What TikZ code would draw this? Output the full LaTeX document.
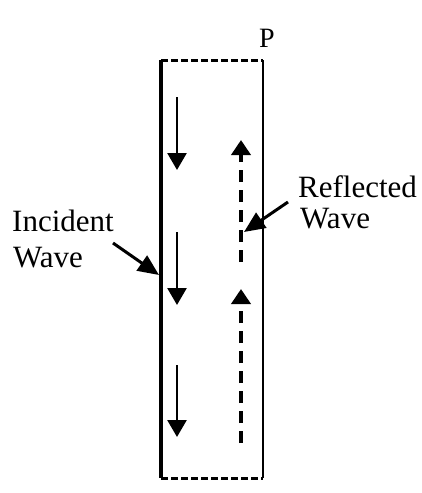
\documentclass[tikz,border=0pt]{standalone}
\usepackage{fontspec}
\setmainfont{Liberation Serif}
\usetikzlibrary{arrows.meta}
\begin{document}
\begin{tikzpicture}[x=1pt,y=-1pt,
  lbl/.style={font=\fontsize{31}{36}\selectfont, inner sep=0pt, anchor=base west},
  plbl/.style={font=\fontsize{28}{32}\selectfont, inner sep=0pt, anchor=base west},
  border/.style={line width=3pt, dash pattern=on 6.5pt off 3.5pt},
  incarrow/.style={line width=2.6pt, -{Triangle[width=19pt,length=17pt]}},
  refarrow/.style={line width=3.8pt, dash pattern=on 12pt off 8pt, -{Triangle[width=19pt,length=15pt]}},
  callout/.style={line width=3pt, -{Triangle[width=18pt,length=21pt]}}]
\useasboundingbox (0,0) rectangle (422,493);
% box corners
\coordinate (tl) at (161,60);
\coordinate (bl) at (161,478);
\coordinate (tr) at (263,60);
\coordinate (br) at (263,478);
\draw[line width=3.4pt] (tl) -- (bl);
\draw[line width=2.4pt] (tr) -- (br);
\draw[border] (tl) -- (tr);
\draw[border] (bl) -- (br);
% incident arrows
\coordinate (i1s) at (177,97);  \coordinate (i1e) at (177,170);
\coordinate (i2s) at (177,232); \coordinate (i2e) at (177,305);
\coordinate (i3s) at (177,365); \coordinate (i3e) at (177,437);
\draw[incarrow] (i1s) -- (i1e);
\draw[incarrow] (i2s) -- (i2e);
\draw[incarrow] (i3s) -- (i3e);
% reflected arrows
\coordinate (r1s) at (241,262); \coordinate (r1e) at (241,140);
\coordinate (r2s) at (241,443); \coordinate (r2e) at (241,289);
\draw[refarrow] (r1s) -- (r1e);
\draw[refarrow] (r2s) -- (r2e);
% labels
\node[plbl] (P) at (259,47) {P};
\node[lbl] (inc1) at (12,231) {Incident};
\node[lbl] (inc2) at (13,267) {Wave};
\node[lbl] (ref1) at (298,197) {Reflected};
\node[lbl] (ref2) at (300,228) {Wave};
\coordinate (ca) at (113,243); \coordinate (cat) at (159,275);
\coordinate (cb) at (288,202); \coordinate (cbt) at (244,232);
\draw[callout] (ca) -- (cat);
\draw[callout] (cb) -- (cbt);
\end{tikzpicture}
\end{document}
